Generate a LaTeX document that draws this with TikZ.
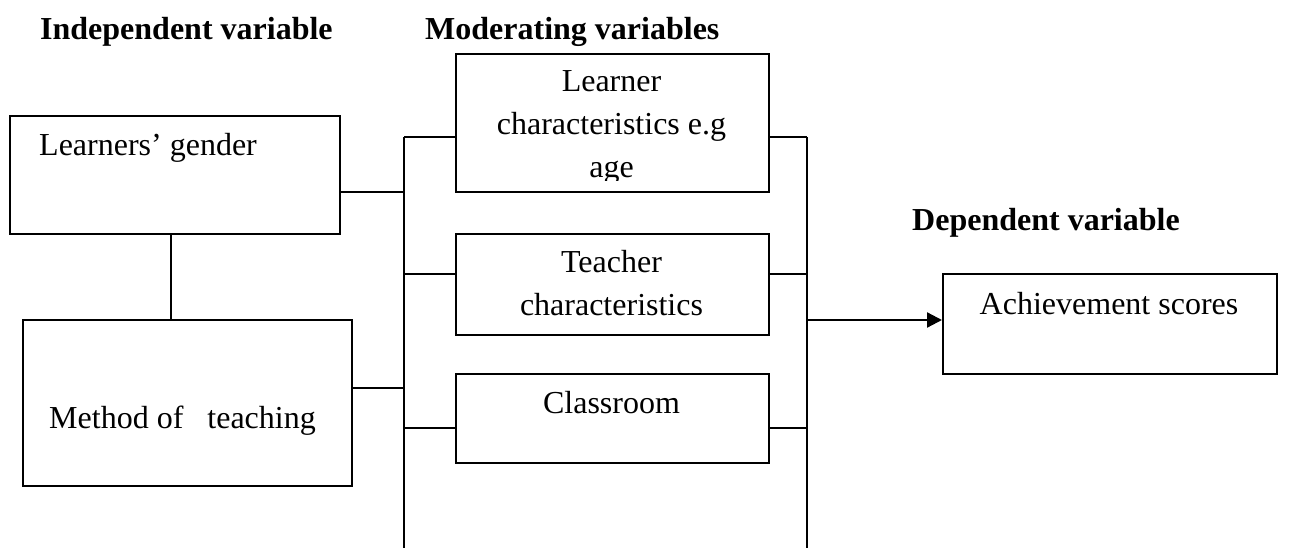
\documentclass[tikz,border=0pt]{standalone}
\usepackage{fontspec}
\setmainfont{Liberation Serif}
\usetikzlibrary{arrows.meta}
\begin{document}
\begin{tikzpicture}[x=1pt,y=-1pt,
  box/.style={draw=black,line width=2pt,rectangle,inner sep=0pt,anchor=north west},
  conn/.style={draw=black,line width=2.2pt},
  arr/.style={conn,-{Triangle[length=15pt,width=15pt]}},
  txt/.style={inner sep=0pt,font=\fontsize{32}{38}\selectfont},
  head/.style={inner sep=0pt,font=\fontsize{32}{38}\selectfont\bfseries,anchor=base west}]
\useasboundingbox (0,0) rectangle (1305,548);
% headers
\node[head] (h1) at (40,40) {Independent variable};
\node[head] (h2) at (425,40) {Moderating variables};
\node[head] (h3) at (912,230) {Dependent variable};
% boxes
\node[box,minimum width=330pt,minimum height=118pt] (gender) at (9,115) {};
\node[box,minimum width=329pt,minimum height=166pt] (method) at (22,319) {};
\node[box,minimum width=313pt,minimum height=138pt] (lc) at (455,53) {};
\node[box,minimum width=313pt,minimum height=101pt] (tc) at (455,233) {};
\node[box,minimum width=313pt,minimum height=89pt] (cr) at (455,373) {};
\node[box,minimum width=334pt,minimum height=100pt] (ach) at (942,273) {};
% texts
\node[txt,anchor=base west] (tgender) at (39,156) {Learners’ gender};
\node[txt,anchor=base west] (tmethod) at (49,428) {Method of\hspace{24pt}teaching};
\node[txt,anchor=base] (tlc1) at (611.5,92) {Learner};
\node[txt,anchor=base] (tlc2) at (611.5,135) {characteristics e.g};
\begin{scope}
\clip (456,54) rectangle (767,181);
\node[txt,anchor=base] (tlc3) at (611.5,178) {age};
\end{scope}
\node[txt,anchor=base] (ttc1) at (611.5,272) {Teacher};
\node[txt,anchor=base] (ttc2) at (611.5,315) {characteristics};
\node[txt,anchor=base] (tcr) at (611.5,413) {Classroom};
\node[txt,anchor=base] (tach) at (1109,314) {Achievement scores};
% buses
\coordinate (Ltop) at (404,137);
\coordinate (Lbot) at (404,548);
\coordinate (Rtop) at (807,137);
\coordinate (Rbot) at (807,548);
\draw[conn] (Ltop) -- (Lbot);
\draw[conn] (Rtop) -- (Rbot);
% left side connections
\draw[conn] ([xshift=-4pt]gender.south) -- ([xshift=-4pt]gender.south |- method.north);
\draw[conn] ([yshift=-17pt]gender.east) -- ([yshift=-17pt]gender.east -| Ltop);
\draw[conn] ([yshift=15pt]method.east) -- ([yshift=15pt]method.east -| Ltop);
% stubs
\draw[conn] (Ltop) -- (lc.west |- Ltop);
\draw[conn] (lc.east |- Rtop) -- (Rtop);
\draw[conn] ([yshift=10.5pt]tc.west -| Ltop) -- ([yshift=10.5pt]tc.west);
\draw[conn] ([yshift=10.5pt]tc.east) -- ([yshift=10.5pt]tc.east -| Rtop);
\draw[conn] ([yshift=-9.5pt]cr.west -| Ltop) -- ([yshift=-9.5pt]cr.west);
\draw[conn] ([yshift=-9.5pt]cr.east) -- ([yshift=-9.5pt]cr.east -| Rtop);
% arrow
\draw[arr] ([yshift=4pt]ach.west -| Rtop) -- ([yshift=4pt]ach.west);
\end{tikzpicture}
\end{document}
